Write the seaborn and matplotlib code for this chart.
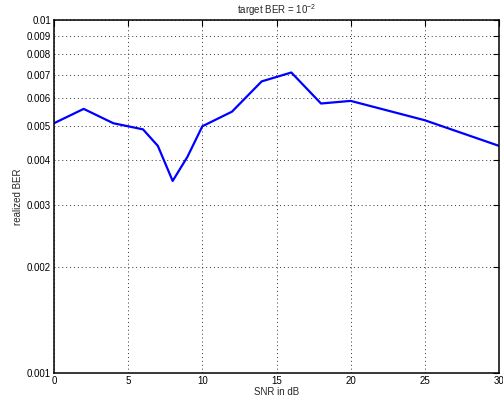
import numpy as np
import pandas as pd
import matplotlib
matplotlib.use("Agg")
import matplotlib.pyplot as plt
import seaborn as sns
from matplotlib.ticker import FixedLocator, FixedFormatter, NullLocator

# data
snr_db = [0, 2, 4, 6, 7, 8, 9, 10, 12, 14, 16, 18, 20, 25, 30]
ber = [0.0051, 0.0056, 0.0051, 0.0049, 0.0044, 0.0035, 0.0041, 0.0050,
       0.0055, 0.0067, 0.0071, 0.0058, 0.0059, 0.0052, 0.0044]
y_ticks = [0.001, 0.002, 0.003, 0.004, 0.005, 0.006, 0.007, 0.008, 0.009, 0.01]
y_labels = ["0.001", "0.002", "0.003", "0.004", "0.005", "0.006", "0.007",
            "0.008", "0.009", "0.01"]
x_ticks = [0, 5, 10, 15, 20, 25, 30]

df = pd.DataFrame({"snr": snr_db, "ber": ber})

sns.set_style("white")
plt.rcParams["font.family"] = ["Liberation Sans", "DejaVu Sans"]
plt.rcParams["mathtext.fontset"] = "custom"
plt.rcParams["mathtext.rm"] = "Liberation Sans"

fig = plt.figure(figsize=(5.03, 4.03), dpi=100)
ax = fig.add_axes([54 / 503, 1 - 373 / 403, 445 / 503, 353 / 403])

sns.lineplot(data=df, x="snr", y="ber", ax=ax, color="#0000ff", linewidth=1.6)

ax.set_yscale("log")
ax.set_xlim(0, 30)
ax.set_ylim(0.001, 0.01)
ax.yaxis.set_major_locator(FixedLocator(y_ticks))
ax.yaxis.set_major_formatter(FixedFormatter(y_labels))
ax.yaxis.set_minor_locator(NullLocator())
ax.set_xticks(x_ticks)

ax.grid(True, which="major", linestyle=(0, (1, 3)), color="#333333", linewidth=0.7)
for sp in ax.spines.values():
    sp.set_color("black")
    sp.set_linewidth(1.1)
ax.tick_params(direction="in", length=4, width=0.8, labelsize=7,
               top=True, right=True, colors="black", pad=2)

ax.set_title(r"target BER = 10$^{-2}$", fontsize=7, pad=4)
ax.set_xlabel("SNR in dB", fontsize=7, labelpad=1)
ax.set_ylabel("realized BER", fontsize=7, labelpad=3)

fig.savefig("out.png", dpi=100)
